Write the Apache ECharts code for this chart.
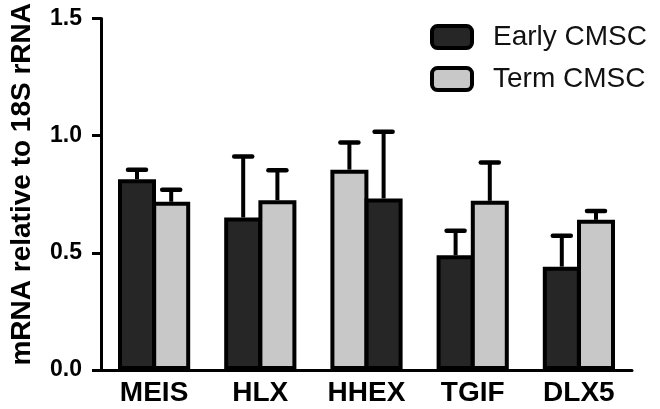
<!DOCTYPE html>
<html>
<head>
<meta charset="utf-8">
<script src="https://cdn.jsdelivr.net/npm/echarts@6/dist/echarts.min.js"></script>
<style>
html,body{margin:0;padding:0;background:#fff;}
#c{width:660px;height:409px;}
</style>
</head>
<body>
<div id="c"></div>
<script>
// Data
const categories = ['MEIS', 'HLX', 'HHEX', 'TGIF', 'DLX5'];
// First (left) bar in each group; HHEX left bar is drawn light in the original
const firstBarValues = [0.814, 0.651, 0.855, 0.490, 0.441];
const firstBarErrors = [0.041, 0.260, 0.116, 0.104, 0.132];
// Second (right) bar in each group; HHEX right bar is drawn dark in the original
const secondBarValues = [0.718, 0.725, 0.732, 0.722, 0.641];
const secondBarErrors = [0.051, 0.128, 0.285, 0.164, 0.038];
// Which bars use the "light" fill (true) in each position
const firstBarLight = [false, false, true, false, false];
const secondBarLight = [true, true, false, true, true];
const seriesNames = ['Early CMSC', 'Term CMSC'];
const yTicks = [0, 0.5, 1.0, 1.5];

const DARK = '#262626';
const LIGHT = '#c8c8c8';
const EDGE = '#000000';
const BAR_W = 38;
const GAP = -0.1;
const OFFSET = (BAR_W + BAR_W * GAP) / 2;

function barData(values, lightFlags) {
  return values.map((v, i) => ({
    value: v,
    itemStyle: { color: lightFlags[i] ? LIGHT : DARK }
  }));
}

function errData(values, errs) {
  return values.map((v, i) => [i, v, v + errs[i]]);
}

function errRender(offsetSign) {
  return function (params, api) {
    const i = api.value(0);
    const lo = api.coord([i, api.value(1)]);
    const hi = api.coord([i, api.value(2)]);
    const x = lo[0] + offsetSign * OFFSET;
    const cap = 9;
    return {
      type: 'group',
      children: [
        { type: 'line', shape: { x1: x, y1: lo[1], x2: x, y2: hi[1] },
          style: { stroke: EDGE, lineWidth: 4 } },
        { type: 'line', shape: { x1: x - cap, y1: hi[1], x2: x + cap, y2: hi[1] },
          style: { stroke: EDGE, lineWidth: 4.5, lineCap: 'round' } }
      ]
    };
  };
}

const chart = echarts.init(document.getElementById('c'), null, { renderer: 'canvas' });
chart.setOption({
  animation: false,
  backgroundColor: '#ffffff',
  textStyle: { fontFamily: 'Liberation Sans, Arial, sans-serif' },
  grid: { left: 93, right: 28, top: 15, bottom: 39, containLabel: false },
  legend: {
    orient: 'vertical',
    left: 425,
    top: 18,
    itemWidth: 40,
    itemHeight: 22,
    itemGap: 14,
    data: seriesNames,
    itemStyle: { borderColor: EDGE, borderWidth: 4 },
    textStyle: { fontSize: 28, color: '#111', fontFamily: 'Liberation Sans, Arial, sans-serif', padding: [0, 0, 0, 16], lineHeight: 28 }
  },
  xAxis: {
    type: 'category',
    data: categories,
    axisLine: { lineStyle: { color: EDGE, width: 3 } },
    axisTick: { show: false },
    axisLabel: { fontSize: 28, fontWeight: 'bold', color: '#000', margin: 9 }
  },
  yAxis: {
    type: 'value',
    min: yTicks[0],
    max: yTicks[yTicks.length - 1],
    interval: 0.5,
    name: 'mRNA relative to 18S rRNA',
    nameLocation: 'middle',
    nameGap: 65,
    nameTextStyle: { fontSize: 28, fontWeight: 'bold', color: '#000', padding: [0, 0, 0, 20] },
    splitLine: { show: false },
    axisLine: { show: true, lineStyle: { color: EDGE, width: 3 } },
    axisTick: { show: true, length: 9, lineStyle: { color: EDGE, width: 3 } },
    axisLabel: { fontSize: 23, fontWeight: 'bold', color: '#000', margin: 19,
      formatter: v => v.toFixed(1) }
  },
  series: [
    {
      name: seriesNames[0], type: 'bar', barWidth: BAR_W, barGap: (GAP * 100) + '%',
      itemStyle: { color: DARK, borderColor: EDGE, borderWidth: 4 },
      data: barData(firstBarValues, firstBarLight), z: 2
    },
    {
      name: seriesNames[1], type: 'bar', barWidth: BAR_W, barGap: (GAP * 100) + '%',
      itemStyle: { color: LIGHT, borderColor: EDGE, borderWidth: 4 },
      data: barData(secondBarValues, secondBarLight), z: 2
    },
    {
      type: 'custom', renderItem: errRender(-1), data: errData(firstBarValues, firstBarErrors),
      z: 3, silent: true
    },
    {
      type: 'custom', renderItem: errRender(1), data: errData(secondBarValues, secondBarErrors),
      z: 3, silent: true
    }
  ]
});
</script>
</body>
</html>
